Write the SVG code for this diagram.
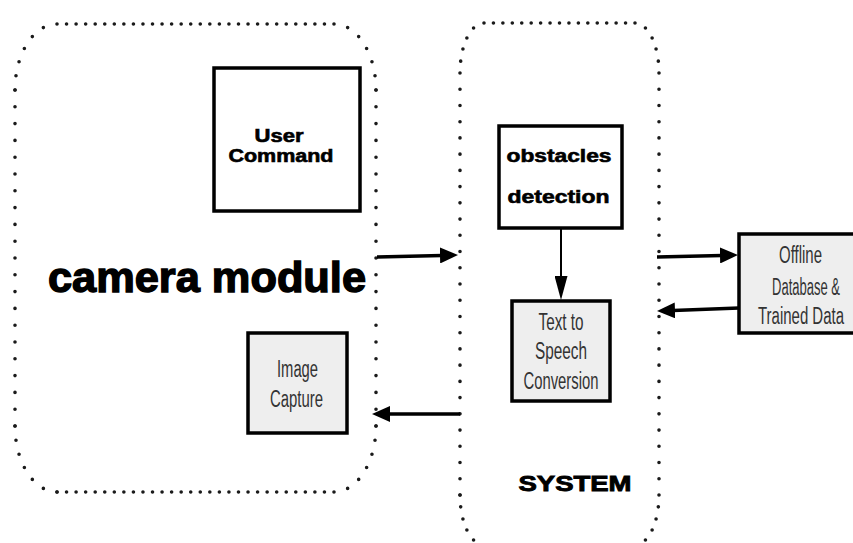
<svg xmlns="http://www.w3.org/2000/svg" width="853" height="543" viewBox="0 0 853 543">
  <style>
    .dot { fill: none; stroke: #1a1a1a; stroke-width: 3.6; stroke-linecap: round; stroke-dasharray: 0 1; }
    .box { stroke: #000; stroke-width: 3.5; }
    .white { fill: #ffffff; }
    .gray { fill: #eeeeee; }
    .bold { font-family: "Liberation Sans", Arial, sans-serif; font-weight: bold; fill: #000; text-anchor: middle; }
    .thin { font-family: "Liberation Sans", Arial, sans-serif; fill: #333333; text-anchor: middle; font-size: 23px; }
    .conn { stroke: #000; fill: none; }
  </style>
  <defs>
    <marker id="arrBig" viewBox="0 0 18 16" markerWidth="18" markerHeight="16" markerUnits="userSpaceOnUse" refX="2" refY="8" orient="auto">
      <path d="M0,0 L18,8 L0,16 z" fill="#000"/>
    </marker>
    <marker id="arrThin" viewBox="0 0 24 13" markerWidth="24" markerHeight="13" markerUnits="userSpaceOnUse" refX="2" refY="6.5" orient="auto">
      <path d="M0,0 L24,6.5 L0,13 z" fill="#000"/>
    </marker>
  </defs>
  <rect width="853" height="543" fill="#ffffff"/>

  <g id="camera-module">
    <path class="dot" pathLength="29" d="M57,24 H334"/>
    <path class="dot" pathLength="6" d="M334,24 A42,66 0 0 1 376,90"/>
    <path class="dot" pathLength="20" d="M376,90 V426"/>
    <path class="dot" pathLength="6" d="M376,426 A42,66 0 0 1 334,492"/>
    <path class="dot" pathLength="29" d="M334,492 H57"/>
    <path class="dot" pathLength="6" d="M57,492 A42,66 0 0 1 15,426"/>
    <path class="dot" pathLength="20" d="M15,426 V90"/>
    <path class="dot" pathLength="6" d="M15,90 A42,66 0 0 1 57,24"/>
    <text class="bold" x="207" y="292" font-size="42" stroke="#000" stroke-width="1.4" textLength="318" lengthAdjust="spacingAndGlyphs">camera module</text>
  </g>

  <g id="system">
    <path class="dot" pathLength="16" d="M484,23 H635"/>
    <path class="dot" pathLength="5" d="M635,23 A24,50 0 0 1 659,73"/>
    <path class="dot" pathLength="26" d="M659,73 V495"/>
    <path class="dot" pathLength="5" d="M659,495 A24,50 0 0 1 635,545"/>
    <path class="dot" pathLength="16" d="M635,545 H484"/>
    <path class="dot" pathLength="5" d="M484,545 A24,50 0 0 1 460,495"/>
    <path class="dot" pathLength="26" d="M460,495 V73"/>
    <path class="dot" pathLength="5" d="M460,73 A24,50 0 0 1 484,23"/>
    <text class="bold" x="575" y="491" font-size="22" stroke="#000" stroke-width="0.9" textLength="113" lengthAdjust="spacingAndGlyphs">SYSTEM</text>
  </g>

  <g id="user-command">
    <rect class="box white" x="214" y="68" width="146" height="143"/>
    <text class="bold" x="279" y="142" font-size="18" stroke="#000" stroke-width="0.6" textLength="49" lengthAdjust="spacingAndGlyphs">User</text>
    <text class="bold" x="281" y="162" font-size="18" stroke="#000" stroke-width="0.6" textLength="105" lengthAdjust="spacingAndGlyphs">Command</text>
  </g>

  <g id="image-capture">
    <rect class="box gray" x="248" y="333" width="99" height="100" stroke-width="4"/>
    <text class="thin" x="297.5" y="377" textLength="41" lengthAdjust="spacingAndGlyphs">Image</text>
    <text class="thin" x="296.5" y="407" textLength="53" lengthAdjust="spacingAndGlyphs">Capture</text>
  </g>

  <g id="obstacles-detection">
    <rect class="box white" x="499" y="126" width="123" height="102"/>
    <text class="bold" x="559" y="162" font-size="18" stroke="#000" stroke-width="0.6" textLength="105" lengthAdjust="spacingAndGlyphs">obstacles</text>
    <text class="bold" x="558.5" y="203" font-size="18" stroke="#000" stroke-width="0.6" textLength="102" lengthAdjust="spacingAndGlyphs">detection</text>
  </g>

  <g id="text-to-speech">
    <rect class="box gray" x="512" y="301" width="98" height="100"/>
    <text class="thin" x="561" y="330" textLength="45" lengthAdjust="spacingAndGlyphs">Text to</text>
    <text class="thin" x="561" y="359" textLength="52" lengthAdjust="spacingAndGlyphs">Speech</text>
    <text class="thin" x="561" y="389" textLength="75" lengthAdjust="spacingAndGlyphs">Conversion</text>
  </g>

  <g id="offline-database">
    <rect class="box gray" x="739" y="234" width="130" height="99"/>
    <text class="thin" x="800.5" y="263" textLength="43" lengthAdjust="spacingAndGlyphs">Offline</text>
    <text class="thin" x="806" y="295" textLength="68" lengthAdjust="spacingAndGlyphs">Database &amp;</text>
    <text class="thin" x="801" y="324" textLength="86" lengthAdjust="spacingAndGlyphs">Trained Data</text>
  </g>

  <g id="connectors">
    <line class="conn" x1="377" y1="257" x2="442" y2="255.4" stroke-width="3.5" marker-end="url(#arrBig)"/>
    <line class="conn" x1="460" y1="414" x2="388" y2="414" stroke-width="3.5" marker-end="url(#arrBig)"/>
    <line class="conn" x1="657" y1="257" x2="722" y2="255.4" stroke-width="3.5" marker-end="url(#arrBig)"/>
    <line class="conn" x1="739" y1="308" x2="673" y2="310.5" stroke-width="3.5" marker-end="url(#arrBig)"/>
    <line class="conn" x1="561" y1="228" x2="561" y2="278" stroke-width="2" marker-end="url(#arrThin)"/>
  </g>
</svg>
